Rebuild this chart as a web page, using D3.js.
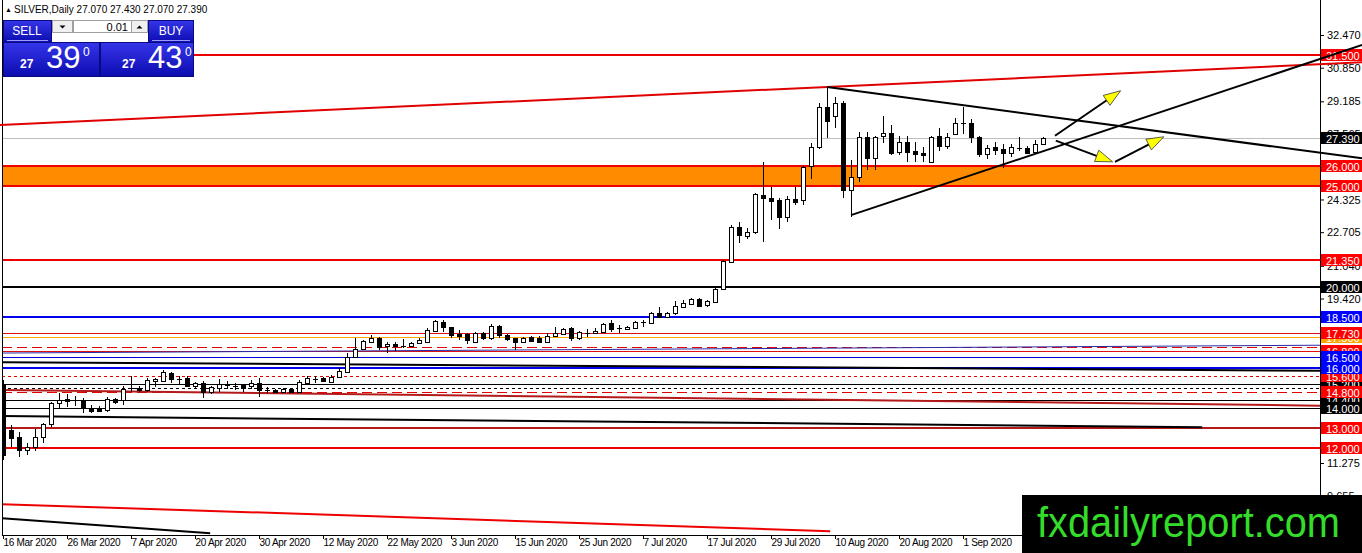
<!DOCTYPE html>
<html><head><meta charset="utf-8">
<script src="https://cdn.jsdelivr.net/npm/d3@7"></script>
<style>
html,body{margin:0;padding:0;background:#fff;overflow:hidden}
svg{display:block;font-family:"Liberation Sans",Arial,sans-serif}
</style></head><body>
<svg id="c" width="1362" height="553"></svg>
<script>
// ---------------- DATA ----------------
const symbolTitle = "SILVER,Daily";
const lastOHLC = ["27.070", "27.430", "27.070", "27.390"];
const sellPrice = ["27", "39", "0"];
const buyPrice = ["27", "43", "0"];
const lotSize = "0.01";

const opens = [15.14,12.91,12.56,11.91,12.06,12.56,13.20,14.24,14.44,14.38,14.34,13.99,13.97,13.90,14.44,14.39,14.97,14.99,14.89,15.33,
15.33,15.73,15.43,15.48,15.09,15.23,14.79,14.99,15.16,15.09,15.14,15.09,15.23,14.89,14.89,14.79,14.94,14.79,15.23,15.45,
15.48,15.28,15.53,15.78,16.52,16.92,17.26,17.46,17.07,17.16,17.07,17.07,17.21,17.26,17.81,18.26,18.01,17.66,17.66,17.26,
17.71,17.46,18.06,17.61,17.46,17.26,17.51,17.46,17.26,17.56,17.66,17.96,17.46,17.72,17.71,17.76,18.21,17.95,17.91,17.96,
18.25,18.21,18.70,18.50,18.70,19.00,19.15,19.39,19.10,19.25,19.89,21.23,22.96,22.51,22.71,24.55,24.40,24.30,23.46,24.35,
24.30,25.98,26.92,28.90,28.46,29.10,24.79,25.44,27.42,26.38,27.47,27.62,26.68,27.17,26.73,26.63,26.18,27.47,26.97,27.57,
28.10,28.11,27.42,26.58,26.92,26.82,26.63,26.86,26.87,26.68,27.07];
const highs = [15.38,13.15,12.81,12.26,12.96,13.25,14.29,14.74,14.69,14.59,14.49,14.14,14.12,14.54,14.49,15.09,15.58,15.09,15.48,15.48,
15.88,15.78,15.58,15.58,15.28,15.33,15.09,15.43,15.33,15.23,15.16,15.38,15.48,15.04,14.94,15.00,14.99,15.38,15.58,15.58,
15.53,15.63,15.98,16.72,17.46,17.36,17.61,17.50,17.26,17.26,17.41,17.28,17.46,17.96,18.36,18.36,18.03,17.86,17.71,17.74,
17.76,18.16,18.11,17.66,17.48,17.51,17.56,17.56,17.71,18.01,17.96,18.01,17.81,17.91,17.96,18.21,18.36,18.11,18.06,18.31,
18.36,18.75,19.00,18.75,19.29,19.34,19.44,19.44,19.34,19.94,21.35,23.06,23.21,22.91,24.64,26.18,24.94,24.40,24.50,24.94,
25.98,27.12,29.10,29.89,29.40,29.20,26.28,27.67,27.67,27.47,28.46,28.01,27.47,27.47,27.17,26.92,27.45,27.86,27.62,28.36,
28.90,28.31,27.45,27.02,27.17,27.07,27.07,27.42,26.97,27.27,27.43];
const lows = [11.42,12.06,11.57,11.67,11.87,12.26,13.05,13.95,14.04,14.09,13.75,13.75,13.80,13.80,14.19,14.14,14.79,14.79,14.79,15.04,
15.28,15.23,15.14,15.04,14.99,14.49,14.69,14.79,14.94,14.89,14.79,14.94,14.54,14.74,14.74,14.74,14.74,14.74,15.18,15.23,
15.28,15.23,15.48,15.73,16.47,16.87,17.21,16.87,16.72,16.82,16.97,17.02,17.16,17.21,17.76,17.76,17.46,17.36,17.16,17.21,
17.36,17.36,17.46,17.31,16.87,17.21,17.26,17.21,17.21,17.51,17.61,17.31,17.36,17.51,17.66,17.71,17.76,17.71,17.88,17.91,
18.01,18.16,18.45,18.45,18.60,18.95,19.10,19.00,19.00,19.20,19.84,21.18,22.17,22.36,22.61,22.22,23.31,22.86,23.21,24.05,
24.05,25.34,26.82,27.37,27.86,24.40,23.46,25.19,25.78,25.78,27.12,26.53,26.53,26.18,26.18,26.18,26.13,26.73,26.82,27.52,
27.57,27.12,26.43,26.33,26.53,25.88,26.43,26.73,26.58,26.68,27.07];
const closes = [11.67,12.51,11.91,12.06,12.56,13.20,14.24,14.39,14.34,14.40,13.99,13.85,13.87,14.44,14.29,14.94,15.00,14.89,15.38,15.43,
15.78,15.43,15.45,15.09,15.23,14.79,15.04,15.18,15.14,15.10,14.99,15.23,14.89,14.88,14.79,14.94,14.79,15.28,15.48,15.43,
15.33,15.53,15.83,16.52,16.92,17.31,17.46,17.02,17.16,17.07,17.08,17.21,17.36,17.86,18.31,18.01,17.61,17.56,17.36,17.71,
17.46,18.06,17.61,17.41,17.26,17.46,17.31,17.26,17.56,17.71,17.91,17.46,17.76,17.70,17.81,18.16,17.91,17.96,18.01,18.26,
18.27,18.70,18.50,18.70,19.05,19.20,19.39,19.05,19.29,19.89,21.28,22.96,22.56,22.71,24.59,24.40,24.25,23.46,24.35,24.20,
25.93,26.92,28.90,28.21,29.10,24.79,25.44,27.42,26.38,27.42,27.62,26.63,27.17,26.68,26.58,26.53,27.42,26.97,27.42,28.11,
28.12,27.42,26.58,26.87,26.77,26.63,26.92,26.88,26.63,27.07,27.39];

const dateLabels = ["16 Mar 2020","26 Mar 2020","7 Apr 2020","20 Apr 2020","30 Apr 2020","12 May 2020","22 May 2020","3 Jun 2020",
"15 Jun 2020","25 Jun 2020","7 Jul 2020","17 Jul 2020","29 Jul 2020","10 Aug 2020","20 Aug 2020","1 Sep 2020"];
const dateLabelBars = [0,8,16,24,32,40,48,56,64,72,80,88,96,104,112,120];

const priceTicks = [32.470,30.850,29.185,27.565,25.945,24.325,22.705,21.040,19.420,17.800,16.180,14.560,12.895,11.275,9.655];

const currentPrice = 27.39;
const zoneTop = 26.0, zoneBottom = 25.0;

const levelPrices = [31.5,26.0,25.0,21.35,20.0,18.5,17.73,17.5,16.8,16.5,16.0,15.6,15.2,14.8,14.4,14.0,13.0,12.0];
const levelKinds  = ["redThick","redThick","redThick","redThick","blackThick","blueThick","red","orange","red","blue","blueThick","redDot","black","redDash","black","black","darkRedThick","redThick"];
const extraLevelPrices = [17.0, 15.0];
const extraLevelKinds  = ["redDash","blackDot"];

// trend lines as [[bar, price],[bar, price]]
const upperRedTrend   = [[-0.375,28.01],[169.9,31.12]];
const triangleTop     = [[103,29.89],[169.9,26.36]];
const triangleBottom  = [[106,23.55],[169.9,31.98]];
const lowerTrends = [
  {pts:[[-0.375,16.72],[169.9,17.12]], kind:"navy"},
  {pts:[[-0.375,16.27],[169.9,15.83]], kind:"blackThick"},
  {pts:[[-0.375,14.89],[169.9,14.09]], kind:"darkRedThick"},
  {pts:[[-0.375,13.60],[149.9,13.05]], kind:"blackThick"},
  {pts:[[-0.375,9.24],[103.4,7.90]], kind:"redThick"},
  {pts:[[-0.375,8.55],[25.9,7.80]], kind:"blackThick"}
];
const arrows = [
  [[131.5,27.48],[139.7,29.71]],
  [[131.6,27.24],[138.7,26.19]],
  [[139.0,26.19],[145.1,27.43]]
];
const watermark = "fxdailyreport.com";

// ---------------- STYLES ----------------
const STY = {
  redThick:{c:"#ee0000",w:2,d:null,box:"#ff0000"},
  red:{c:"#dd1111",w:1,d:null,box:"#ff0000"},
  darkRedThick:{c:"#b41a1a",w:2,d:null,box:"#ff0000"},
  blackThick:{c:"#000000",w:2,d:null,box:"#000000"},
  black:{c:"#000000",w:1,d:null,box:"#000000"},
  blackDot:{c:"#000000",w:1,d:"3,3",box:"#000000"},
  blueThick:{c:"#0000ee",w:2,d:null,box:"#0000ff"},
  blue:{c:"#0000dd",w:1,d:null,box:"#0000ff"},
  navy:{c:"#2a2aa8",w:1,d:null,box:"#0000ff"},
  orange:{c:"#ffa500",w:1,d:null,box:"#ffa500"},
  redDot:{c:"#e00000",w:1,d:"3,3",box:"#ff0000"},
  redDash:{c:"#e00000",w:1,d:"10,5",box:"#ff0000"}
};

// ---------------- CHART ----------------
const W = 1362, H = 553;
const plotL = 2, plotR = 1320, plotB = 535;
const svg = d3.select("#c");
const x = d3.scaleLinear().domain([0,130]).range([3,1043]);
const y = d3.scaleLinear().domain([32.47,11.275]).range([35,463]);

svg.append("rect").attr("width",W).attr("height",H).attr("fill","#fff");
const defs = svg.append("defs");
defs.append("clipPath").attr("id","plotClip").append("rect")
  .attr("x",plotL).attr("y",0).attr("width",plotR-plotL).attr("height",plotB);

const plot = svg.append("g").attr("clip-path","url(#plotClip)");

// orange zone
plot.append("rect").attr("x",plotL).attr("width",plotR-plotL)
  .attr("y",y(zoneTop)).attr("height",y(zoneBottom)-y(zoneTop)).attr("fill","#ff8c00");

// current price line
plot.append("line").attr("x1",plotL).attr("x2",plotR)
  .attr("y1",Math.round(y(currentPrice))+0.5).attr("y2",Math.round(y(currentPrice))+0.5)
  .attr("stroke","#bdbdbd").attr("stroke-width",1);

// horizontal levels
function hline(p,kind){
  const s = STY[kind];
  const yy = Math.round(y(p)) + (s.w%2 ? 0.5 : 0);
  plot.append("line").attr("x1",plotL).attr("x2",plotR).attr("y1",yy).attr("y2",yy)
    .attr("stroke",s.c).attr("stroke-width",s.w).attr("stroke-dasharray",s.d)
    .attr("shape-rendering","crispEdges");
}
extraLevelPrices.forEach((p,i)=>hline(p,extraLevelKinds[i]));
levelPrices.forEach((p,i)=>hline(p,levelKinds[i]));

// lower sloped lines
const line = d3.line().x(d=>x(d[0])).y(d=>y(d[1]));
lowerTrends.forEach(t=>{
  const s = STY[t.kind];
  plot.append("path").attr("d",line(t.pts)).attr("fill","none")
    .attr("stroke",s.c).attr("stroke-width",s.w);
});

// candles
const bars = d3.range(opens.length).map(i=>({i,o:opens[i],h:highs[i],l:lows[i],c:closes[i]}));
const cg = plot.append("g").attr("shape-rendering","crispEdges");
bars.forEach(b=>{
  const xc = Math.round(x(b.i));
  cg.append("line").attr("x1",xc+0.5).attr("x2",xc+0.5)
    .attr("y1",y(b.h)).attr("y2",y(b.l)).attr("stroke","#000").attr("stroke-width",1);
  const top = y(Math.max(b.o,b.c)), bot = y(Math.min(b.o,b.c));
  const hgt = Math.max(1, bot-top);
  if (Math.abs(bot-top) < 1.2) {
    cg.append("line").attr("x1",xc-2).attr("x2",xc+3).attr("y1",Math.round(top)+0.5).attr("y2",Math.round(top)+0.5)
      .attr("stroke","#000");
  } else if (b.c >= b.o) {
    cg.append("rect").attr("x",xc-1.5).attr("width",4).attr("y",Math.round(top)+0.5).attr("height",Math.round(hgt))
      .attr("fill","#fff").attr("stroke","#000").attr("stroke-width",1);
  } else {
    cg.append("rect").attr("x",xc-2).attr("width",5).attr("y",Math.round(top)).attr("height",Math.round(hgt)+1)
      .attr("fill","#000");
  }
});

// ---------------- AXES ----------------
svg.append("line").attr("x1",plotR+0.5).attr("x2",plotR+0.5).attr("y1",0).attr("y2",plotB)
  .attr("stroke","#000").attr("shape-rendering","crispEdges");
svg.append("line").attr("x1",plotL).attr("x2",plotR).attr("y1",plotB+0.5).attr("y2",plotB+0.5)
  .attr("stroke","#000").attr("shape-rendering","crispEdges");
svg.append("line").attr("x1",plotL+0.5).attr("x2",plotL+0.5).attr("y1",0).attr("y2",plotB)
  .attr("stroke","#000").attr("shape-rendering","crispEdges");

const yAxis = svg.append("g").attr("transform",`translate(${plotR+1},0)`)
  .call(d3.axisRight(y).tickValues(priceTicks).tickSize(3).tickFormat(d3.format(".3f")));
yAxis.select(".domain").remove();
yAxis.selectAll("text").attr("x",6).attr("font-size",11).attr("font-family","Liberation Sans, Arial, sans-serif").attr("fill","#000");
yAxis.selectAll("line").attr("stroke","#000");

const xAxis = svg.append("g").attr("transform",`translate(0,${plotB+1})`)
  .call(d3.axisBottom(x).tickValues(dateLabelBars).tickSize(3).tickFormat((d,i)=>dateLabels[i]));
xAxis.select(".domain").remove();
xAxis.selectAll("text").attr("text-anchor","start").attr("x",0).attr("y",3).attr("dy","0.71em")
  .attr("font-size",10).attr("letter-spacing","-0.3px")
  .attr("font-family","Liberation Sans, Arial, sans-serif").attr("fill","#000");
xAxis.selectAll("line").attr("stroke","#000");

// level labels
function levelLabel(p,boxColor){
  const yy = Math.round(y(p));
  const g = svg.append("g");
  g.append("rect").attr("x",plotR+1).attr("y",yy-6).attr("width",W-plotR-1).attr("height",12).attr("fill",boxColor);
  g.append("text").attr("x",plotR+6).attr("y",yy+4.5).attr("fill","#fff").attr("font-size",11)
    .text(d3.format(".3f")(p));
}
const labelOrder = [7,8,12,14,0,1,2,3,4,5,6,9,11,10,13,15,16,17];
labelOrder.forEach(i=>levelLabel(levelPrices[i], STY[levelKinds[i]].box));
levelLabel(currentPrice, "#000000");

// ---------------- TRIANGLE & UPPER CHANNEL ----------------
svg.append("path").attr("d",line(upperRedTrend)).attr("fill","none").attr("stroke","#e00000").attr("stroke-width",2);
svg.append("path").attr("d",line(triangleTop)).attr("fill","none").attr("stroke","#000").attr("stroke-width",2);
svg.append("path").attr("d",line(triangleBottom)).attr("fill","none").attr("stroke","#000").attr("stroke-width",2);

// arrows
arrows.forEach(a=>{
  const x1=x(a[0][0]), y1=y(a[0][1]), x2=x(a[1][0]), y2=y(a[1][1]);
  const dx=x2-x1, dy=y2-y1, L=Math.hypot(dx,dy), ux=dx/L, uy=dy/L;
  const hl=17, hw=6;
  const bx=x2-ux*hl, by=y2-uy*hl;
  svg.append("line").attr("x1",x1).attr("y1",y1).attr("x2",bx+ux*2).attr("y2",by+uy*2)
    .attr("stroke","#000").attr("stroke-width",2);
  svg.append("path").attr("d",`M${x2},${y2}L${bx-uy*hw},${by+ux*hw}L${bx+uy*hw},${by-ux*hw}Z`)
    .attr("fill","#ffff00").attr("stroke","#333").attr("stroke-width",0.8);
});

// ---------------- TITLE & TRADE PANEL ----------------
svg.append("text").attr("x",5).attr("y",12).attr("font-size",7).attr("fill","#000").text("▲");
svg.append("text").attr("x",14).attr("y",13).attr("font-size",10).attr("fill","#000")
  .text(symbolTitle + "  " + lastOHLC.join(" "));

const grad = defs.append("linearGradient").attr("id","blueG").attr("x1",0).attr("y1",0).attr("x2",0).attr("y2",1);
grad.append("stop").attr("offset","0%").attr("stop-color","#3535ea");
grad.append("stop").attr("offset","100%").attr("stop-color","#0c0cb0");

const panel = svg.append("g");
function blueBox(x0,y0,w,h){
  panel.append("rect").attr("x",x0).attr("y",y0).attr("width",w).attr("height",h)
    .attr("fill","url(#blueG)").attr("stroke","#0a0a80").attr("stroke-width",1);
}
panel.append("rect").attr("x",3).attr("y",19).attr("width",191).attr("height",58).attr("fill","#fff");
blueBox(3.5,20.5,48,22);
blueBox(148.5,20.5,45,22);
blueBox(3.5,42.5,96,34);
blueBox(100.5,42.5,93,34);
panel.append("line").attr("x1",7).attr("x2",48).attr("y1",40.5).attr("y2",40.5).attr("stroke","#9c9cff");
panel.append("line").attr("x1",152).attr("x2",190).attr("y1",40.5).attr("y2",40.5).attr("stroke","#9c9cff");
panel.append("text").attr("x",27).attr("y",35).attr("text-anchor","middle").attr("fill","#fff").attr("font-size",12).text("SELL");
panel.append("text").attr("x",171).attr("y",35).attr("text-anchor","middle").attr("fill","#fff").attr("font-size",12).text("BUY");
[[52.5,20.5,20,12],[73.5,20.5,58,12],[131.5,20.5,16,12]].forEach(r=>{
  panel.append("rect").attr("x",r[0]).attr("y",r[1]).attr("width",r[2]).attr("height",r[3])
    .attr("fill",r[2]===58?"#fff":"#f0f0f0").attr("stroke","#a0a0a0");
});
panel.append("path").attr("d","M59.5,25.5L65.5,25.5L62.5,28.5Z").attr("fill","#000");
panel.append("path").attr("d","M136.5,28.5L142.5,28.5L139.5,25.5Z").attr("fill","#000");
panel.append("text").attr("x",128).attr("y",31).attr("text-anchor","end").attr("font-size",11).attr("fill","#000").text(lotSize);
function priceText(x0, parts){
  panel.append("text").attr("x",x0).attr("y",68).attr("fill","#fff").attr("font-size",12).attr("font-weight","bold").text(parts[0]);
  panel.append("text").attr("x",x0+26).attr("y",68).attr("fill","#fff").attr("font-size",31).text(parts[1]);
  panel.append("text").attr("x",x0+63).attr("y",56).attr("fill","#fff").attr("font-size",12).text(parts[2]);
}
priceText(20, sellPrice);
priceText(122, buyPrice);

// ---------------- WATERMARK ----------------
svg.append("rect").attr("x",1022).attr("y",495).attr("width",W-1022).attr("height",H-495).attr("fill","#000");
svg.append("text").attr("x",1037).attr("y",537).attr("font-size",42).attr("fill","#33dd2a")
  .attr("textLength",303).attr("lengthAdjust","spacingAndGlyphs").text(watermark);
</script></body></html>
